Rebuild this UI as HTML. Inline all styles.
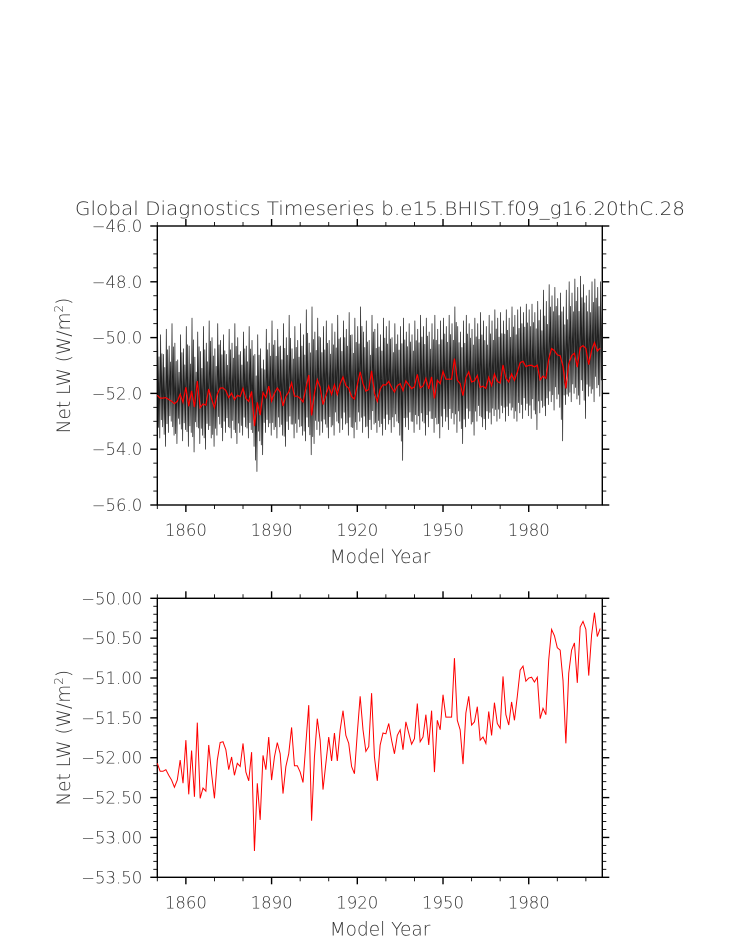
<!DOCTYPE html>
<html><head><meta charset="utf-8"><style>
html,body{margin:0;padding:0;background:#fff;}
svg{display:block;font-family:"DejaVu Sans","Liberation Sans",sans-serif;}
.t{fill:#333;font-weight:300;}
</style></head><body>
<svg id="chart" width="733" height="945" viewBox="0 0 733 945" xmlns="http://www.w3.org/2000/svg">
<text class="t" x="380" y="215" font-size="18.5" text-anchor="middle" textLength="610" lengthAdjust="spacingAndGlyphs">Global Diagnostics Timeseries b.e15.BHIST.f09_g16.20thC.28</text>
<g id="top"></g>
<g id="bot"></g>
</svg>
<script>
const annual = [
-52.07,-52.17,-52.17,-52.15,-52.22,-52.28,-52.37,-52.28,-52.03,-52.32,
-51.78,-52.46,-51.91,-52.49,-51.56,-52.51,-52.38,-52.42,-51.84,-52.20,
-52.51,-52.03,-51.81,-51.80,-51.90,-52.15,-51.99,-52.22,-52.07,-52.11,
-51.82,-52.18,-52.29,-51.93,-53.17,-52.32,-52.78,-51.97,-52.15,-51.74,
-52.28,-51.99,-51.81,-51.95,-52.45,-52.11,-51.95,-51.62,-52.10,-52.10,
-52.18,-52.31,-51.82,-51.34,-52.79,-51.99,-51.51,-51.78,-52.40,-52.07,
-51.74,-52.04,-51.69,-52.04,-51.65,-51.41,-51.72,-51.82,-52.11,-52.20,
-51.69,-51.23,-51.65,-51.92,-51.86,-51.19,-51.99,-52.29,-51.84,-51.69,
-51.70,-51.57,-51.78,-51.95,-51.72,-51.65,-51.90,-51.55,-51.69,-51.83,
-51.76,-51.32,-51.80,-51.74,-51.46,-51.84,-51.41,-52.18,-51.53,-51.65,
-51.21,-51.49,-51.49,-51.49,-50.75,-51.53,-51.65,-52.08,-51.44,-51.23,
-51.59,-51.55,-51.36,-51.78,-51.74,-51.82,-51.42,-51.72,-51.31,-51.57,
-51.63,-50.98,-51.46,-51.59,-51.30,-51.53,-51.23,-50.90,-50.85,-51.04,
-51.00,-50.99,-51.05,-50.99,-51.51,-51.38,-51.46,-50.77,-50.39,-50.47,
-50.62,-50.65,-51.03,-51.82,-50.94,-50.65,-50.56,-51.06,-50.36,-50.29,
-50.39,-50.97,-50.46,-50.18,-50.48,-50.38];
const monthlyHigh = [
-50.1,-49.9,-50.6,-49.7,-50.3,-49.5,-50.2,-50.8,-49.9,-50.4,
-49.6,-50.3,-49.3,-50.7,-49.8,-50.5,-49.6,-50.2,-49.4,-50.0,
-50.4,-49.5,-50.1,-49.9,-50.6,-49.7,-50.2,-49.5,-50.0,-50.5,
-49.8,-50.3,-49.6,-50.1,-50.6,-49.9,-50.4,-50.8,-49.7,-50.2,
-49.4,-50.1,-49.7,-50.3,-49.5,-50.0,-49.2,-50.4,-49.6,-50.1,
-49.5,-49.9,-49.0,-50.2,-48.9,-49.8,-49.3,-50.0,-49.6,-49.4,
-50.1,-49.5,-49.8,-49.2,-50.0,-49.4,-49.7,-49.1,-49.9,-49.3,
-49.6,-48.9,-49.8,-49.4,-50.1,-49.2,-49.7,-49.5,-49.9,-49.3,
-49.6,-49.4,-50.0,-49.5,-49.9,-49.6,-49.3,-49.8,-49.5,-49.9,
-49.4,-49.7,-49.2,-49.6,-49.3,-49.8,-49.5,-49.2,-49.7,-49.4,
-49.3,-49.6,-49.2,-49.5,-48.9,-49.6,-49.8,-49.4,-49.2,-49.5,
-49.7,-49.3,-49.5,-49.1,-49.4,-49.6,-49.2,-49.4,-49.0,-49.3,
-49.1,-49.4,-49.0,-49.3,-48.9,-49.2,-49.0,-48.9,-49.1,-48.8,
-49.0,-48.8,-49.1,-48.7,-49.0,-48.3,-48.7,-48.1,-48.5,-48.2,
-48.6,-48.4,-48.9,-48.3,-48.0,-48.4,-47.9,-48.2,-47.8,-48.1,
-48.5,-48.3,-48.0,-47.9,-48.2,-48.0];
const monthlyLow = [
-53.6,-53.2,-53.9,-53.4,-53.0,-53.5,-53.8,-53.1,-53.7,-53.3,
-53.9,-53.4,-54.1,-53.2,-53.8,-53.5,-54.0,-53.3,-53.6,-53.9,
-53.5,-53.1,-53.7,-53.4,-53.2,-53.6,-53.3,-53.8,-53.4,-53.5,
-53.2,-53.6,-53.3,-53.9,-54.8,-53.7,-54.2,-53.4,-53.2,-53.5,
-53.3,-53.6,-53.2,-53.5,-53.9,-53.3,-53.1,-53.6,-53.4,-53.2,
-53.5,-53.7,-53.2,-54.2,-53.8,-53.3,-53.5,-53.4,-53.1,-53.6,
-53.2,-53.5,-53.0,-53.4,-53.3,-53.1,-53.5,-53.2,-53.6,-53.3,
-53.0,-53.4,-53.2,-53.6,-53.3,-53.1,-53.4,-53.2,-53.5,-53.3,
-53.1,-53.4,-53.2,-53.0,-53.5,-54.4,-53.2,-53.3,-53.0,-53.4,
-53.1,-53.3,-53.0,-53.5,-53.2,-52.9,-53.4,-53.1,-53.6,-53.2,
-53.0,-53.3,-52.9,-53.1,-53.4,-53.0,-53.8,-53.2,-52.9,-53.1,
-53.5,-53.0,-52.8,-53.2,-53.3,-52.9,-53.1,-52.8,-53.0,-52.9,
-52.7,-53.0,-52.8,-52.6,-52.9,-53.0,-52.7,-52.9,-52.6,-52.8,
-52.9,-52.6,-53.3,-52.7,-52.5,-52.8,-52.4,-52.3,-52.6,-52.2,
-52.5,-53.7,-52.4,-52.1,-52.3,-52.0,-52.2,-52.4,-51.9,-52.9,
-52.1,-52.0,-52.3,-51.8,-52.1,-51.9];
const startYear = 1850;
const xTickLabels = ["1860","1890","1920","1950","1980"];
const topYTicks = ["-46.0","-48.0","-50.0","-52.0","-54.0","-56.0"];
const botYTicks = ["-50.00","-50.50","-51.00","-51.50","-52.00","-52.50","-53.00","-53.50"];

const NS="http://www.w3.org/2000/svg";
const L=157.3,R=602.3,X0=1850,X1=2005.75;
function xs(yr){return L+(yr-X0)/(X1-X0)*(R-L);}
function mk(tag,parent,attrs){const e=document.createElementNS(NS,tag);for(const k in attrs)e.setAttribute(k,attrs[k]);parent.appendChild(e);return e;}

function panel(g,top,bot,ymax,ymin,yLabels,minorStep,majorStep,name){
  const ys=v=>top+(ymax-v)/(ymax-ymin)*(bot-top);
  const frame=mk('rect',g,{x:L,y:top,width:R-L,height:bot-top,fill:'none',stroke:'#000','stroke-width':1.4});
  
  
  for(let yr=1850;yr<=2000;yr+=10){
    const x=xs(yr), major=((yr-1860)%30===0);
    const len=major?7:4;
    mk('line',g,{x1:x,x2:x,y1:bot,y2:bot+len,stroke:'#000','stroke-width':major?1.4:0.9});
    mk('line',g,{x1:x,x2:x,y1:top,y2:top-len,stroke:'#000','stroke-width':major?1.4:0.9});
  }
  xTickLabels.forEach(s=>{
    const t=mk('text',g,{x:xs(+s),y:bot+31,'font-size':16.5,'text-anchor':'middle',class:'t'});
    t.textContent=s;
    
    
  });
  const xt=mk('text',g,{x:380,y:bot+58,'font-size':18.5,'text-anchor':'middle',class:'t'});
  xt.textContent='Model Year';
  
  
  const n=Math.round((ymax-ymin)/minorStep);
  for(let i=0;i<=n;i++){
    const v=ymax-i*minorStep, y=ys(v);
    const major=Math.abs(((ymax-v)/majorStep)-Math.round((ymax-v)/majorStep))<1e-6;
    const len=major?7:4;
    mk('line',g,{x1:L,x2:L-len,y1:y,y2:y,stroke:'#000','stroke-width':major?1.4:0.9});
    mk('line',g,{x1:R,x2:R+len,y1:y,y2:y,stroke:'#000','stroke-width':major?1.4:0.9});
  }
  yLabels.forEach(s=>{
    const t=mk('text',g,{x:L-15,y:ys(parseFloat(s))+6,'font-size':16.5,'text-anchor':'end',class:'t'});
    t.textContent=s.replace('-','\u2212');
    
    
  });
  const cy=(top+bot)/2;
  const yt=mk('text',g,{x:0,y:0,'font-size':18.5,'text-anchor':'middle',class:'t',transform:`translate(70,${cy}) rotate(-90)`});
  yt.innerHTML='Net LW (W/m<tspan dy="-7" font-size="12">2</tspan><tspan dy="7">)</tspan>';
  
  
  return ys;
}

const gt=document.getElementById('top');
const ysT=panel(gt,226,505,-46,-56,topYTicks,0.5,2,'top');
let pts=[];
annual.forEach((m,i)=>{
  const yr=startYear+i;
  const h2=m+(monthlyHigh[i]-m)*0.7, l2=m+(monthlyLow[i]-m)*0.75;
  [[0.15,monthlyHigh[i]],[0.4,l2],[0.62,h2],[0.87,monthlyLow[i]]].forEach(([o,v])=>{
    pts.push(xs(yr+o).toFixed(2)+','+ysT(v).toFixed(2));
  });
});
const ml=mk('polyline',gt,{points:pts.join(' '),fill:'none',stroke:'#222','stroke-width':0.75,'stroke-linejoin':'round'});


const al=mk('polyline',gt,{points:annual.map((v,i)=>xs(startYear+i).toFixed(2)+','+ysT(v).toFixed(2)).join(' '),fill:'none',stroke:'#f00','stroke-width':1.2});



const gb=document.getElementById('bot');
const ysB=panel(gb,598.3,877.3,-50,-53.5,botYTicks,0.1,0.5,'bottom');
const bl=mk('polyline',gb,{points:annual.map((v,i)=>xs(startYear+i).toFixed(2)+','+ysB(v).toFixed(2)).join(' '),fill:'none',stroke:'#f00','stroke-width':1});


</script>
</body></html>
